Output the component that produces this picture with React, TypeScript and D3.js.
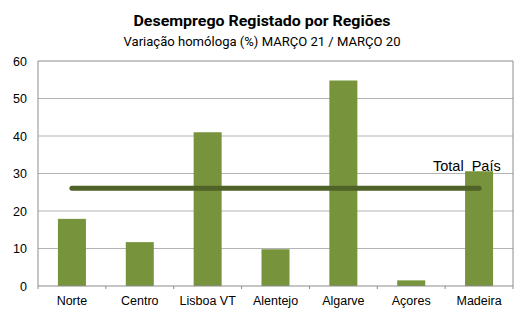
import React from "react";
import * as d3 from "d3";

const categories = ["Norte", "Centro", "Lisboa VT", "Alentejo", "Algarve", "Açores", "Madeira"];
const values = [17.9, 11.7, 41, 9.8, 54.8, 1.5, 30.6];
const totalPais = 26.1;
const yTicks = [0, 10, 20, 30, 40, 50, 60];
const title = "Desemprego Registado por Regiões";
const subtitle = "Variação homóloga (%) MARÇO 21 / MARÇO 20";
const totalLabel = "Total  País";

export default function App() {
  const W = 529, H = 315;
  const left = 38, right = 513, top = 61, bottom = 286;
  const x = d3.scaleBand<string>().domain(categories).range([left, right]).paddingInner(0).paddingOuter(0);
  const y = d3.scaleLinear().domain([0, 60]).range([bottom, top]);
  const bw = 28;
  const bandEdges = categories.map((_, i) => left + i * x.bandwidth());
  bandEdges.push(right);
  const cx = (c: string) => (x(c) as number) + x.bandwidth() / 2;
  return (
    <svg width={W} height={H} style={{ position: "absolute", left: 0, top: 0, background: "#fff" }}>
      <text x={262} y={26} textAnchor="middle" fontFamily="Roboto" fontWeight="bold" fontSize={15.5} fill="#000" textLength={257} lengthAdjust="spacingAndGlyphs">{title}</text>
      <text x={262} y={46} textAnchor="middle" fontFamily="Roboto" fontSize={13} fill="#000" textLength={277} lengthAdjust="spacingAndGlyphs">{subtitle}</text>
      {yTicks.filter(t => t > 0 && t < 60).map(t => (
        <line key={t} x1={left} x2={right} y1={y(t)} y2={y(t)} stroke="#b3b3b3" strokeWidth={1} />
      ))}
      <path d={`M${left},${bottom} V${top} H${right} V${bottom}`} fill="none" stroke="#8c8c8c" strokeWidth={1} />
      {categories.map((c, i) => (
        <rect key={c} x={cx(c) - bw / 2} y={y(values[i])} width={bw} height={bottom - y(values[i])} fill="#77933c" />
      ))}
      <line x1={left} x2={right} y1={bottom} y2={bottom} stroke="#8c8c8c" strokeWidth={1} />
      {bandEdges.map((e, i) => (
        <line key={i} x1={e} x2={e} y1={bottom} y2={bottom + 3} stroke="#8c8c8c" strokeWidth={1} />
      ))}
      <line x1={cx(categories[0])} x2={cx(categories[categories.length - 1])} y1={y(totalPais)} y2={y(totalPais)} stroke="#4f6228" strokeWidth={5} strokeLinecap="round" />
      {yTicks.map(t => (
        <text key={t} x={27} y={y(t) + 4.5} textAnchor="end" fontFamily="Liberation Sans, Arial" fontSize={12.5} fill="#000">{t}</text>
      ))}
      {categories.map(c => (
        <text key={c} x={cx(c)} y={305} textAnchor="middle" fontFamily="Liberation Sans, Arial" fontSize={12.5} fill="#000">{c}</text>
      ))}
      <text x={433} y={171} fontFamily="Liberation Sans, Arial" fontSize={14.5} fill="#000" style={{ whiteSpace: "pre" }}>{totalLabel}</text>
    </svg>
  );
}
